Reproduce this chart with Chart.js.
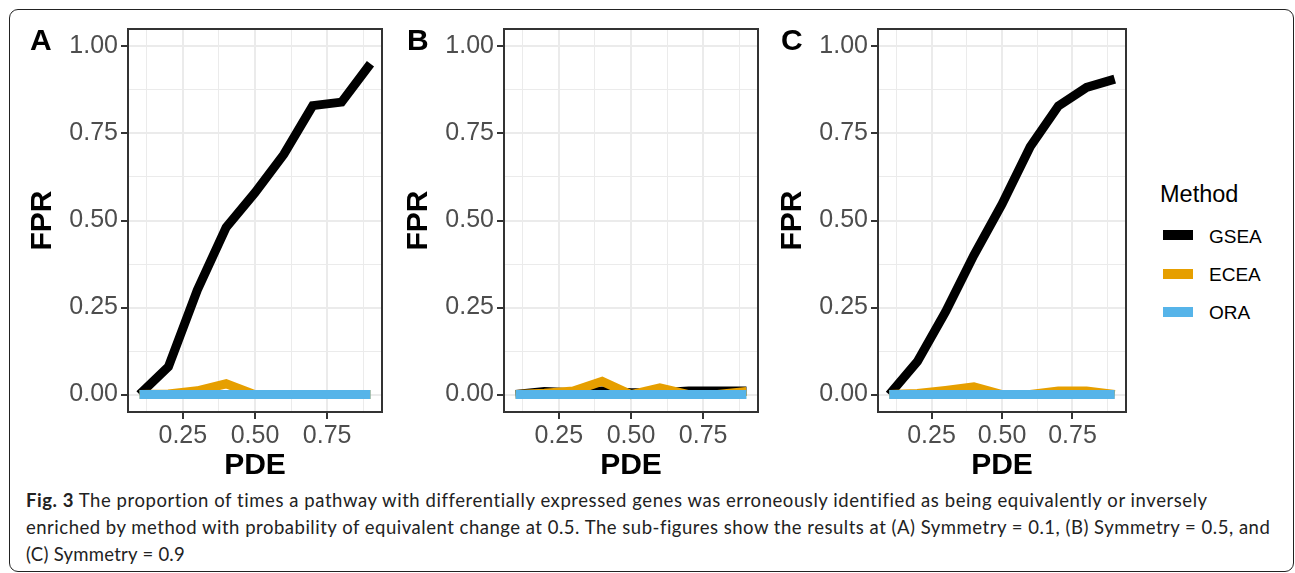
<!DOCTYPE html>
<html>
<head>
<meta charset="utf-8">
<script src="https://cdn.jsdelivr.net/npm/chart.js@4.4.1/dist/chart.umd.min.js"></script>
<style>
  html, body { margin:0; padding:0; background:#fff; }
  body { width:1295px; height:573px; position:relative; overflow:hidden; }
  canvas { position:absolute; top:0; }
  .box { position:absolute; left:9px; top:9px; width:1285px; height:563px; box-sizing:border-box;
         border:1.5px solid #222; border-radius:9px; }
  .txt { position:absolute; white-space:nowrap; line-height:1.2; }
  .letter { font-family:"Liberation Sans", Arial, sans-serif; font-weight:bold; font-size:30px; color:#000; }
  .legtitle { font-family:"Liberation Sans", Arial, sans-serif; font-size:23.5px; color:#000; }
  .leglab { font-family:"Liberation Sans", Arial, sans-serif; font-size:19px; color:#000; }
  .swatch { position:absolute; left:1163px; width:30px; height:10px; }
  .cap { font-family:Lato, "Open Sans", sans-serif; font-size:18.5px; color:#222; }
</style>
</head>
<body>
<div class="box"></div>

<canvas id="cA" width="384" height="484" style="left:0px"></canvas>
<canvas id="cB" width="384" height="484" style="left:376px"></canvas>
<canvas id="cC" width="378" height="484" style="left:750px"></canvas>

<div class="txt letter" data-x="30" data-b="50">A</div>
<div class="txt letter" data-x="407" data-b="50">B</div>
<div class="txt letter" data-x="781" data-b="50">C</div>

<div class="txt legtitle" data-x="1160" data-b="201.5">Method</div>
<div class="swatch" style="top:230px;background:#000000"></div>
<div class="swatch" style="top:268.5px;background:#E69F00"></div>
<div class="swatch" style="top:307px;background:#56B4E9"></div>
<div class="txt leglab" data-x="1209" data-b="242.5">GSEA</div>
<div class="txt leglab" data-x="1209" data-b="281">ECEA</div>
<div class="txt leglab" data-x="1209" data-b="319">ORA</div>

<div class="txt cap" data-x="26" data-b="506.5" data-w="1182"><b>Fig. 3</b> The proportion of times a pathway with differentially expressed genes was erroneously identified as being equivalently or inversely</div>
<div class="txt cap" data-x="26" data-b="533.5" data-w="1244">enriched by method with probability of equivalent change at 0.5. The sub-figures show the results at (A) Symmetry = 0.1, (B) Symmetry = 0.5, and</div>
<div class="txt cap" data-x="26" data-b="560.5" data-w="159">(C) Symmetry = 0.9</div>

<script>
// ---- data ----
const methods = ["GSEA", "ECEA", "ORA"];
const methodColors = ["#000000", "#E69F00", "#56B4E9"];
const pde = [0.1, 0.2, 0.3, 0.4, 0.5, 0.6, 0.7, 0.8, 0.9];

const gseaA = [0.00, 0.08, 0.30, 0.48, 0.58, 0.69, 0.83, 0.84, 0.95];
const eceaA = [0.00, 0.002, 0.011, 0.031, 0.00, 0.00, 0.00, 0.00, 0.00];
const oraA  = [0, 0, 0, 0, 0, 0, 0, 0, 0];

const gseaB = [0.00, 0.009, 0.005, 0.01, 0.005, 0.005, 0.01, 0.01, 0.01];
const eceaB = [0.00, 0.004, 0.01, 0.038, 0.00, 0.019, 0.00, 0.00, 0.009];
const oraB  = [0, 0, 0, 0, 0, 0, 0, 0, 0];

const gseaC = [0.00, 0.095, 0.238, 0.40, 0.547, 0.712, 0.829, 0.882, 0.906];
const eceaC = [0.00, 0.003, 0.012, 0.022, 0.00, 0.00, 0.01, 0.01, 0.00];
const oraC  = [0, 0, 0, 0, 0, 0, 0, 0, 0];

const xMajor = [0.25, 0.5, 0.75];
const xMajorLabels = ["0.25", "0.50", "0.75"];
const xMinor = [0.125, 0.375, 0.625, 0.875];
const yMajor = [0, 0.25, 0.5, 0.75, 1];
const yMajorLabels = ["0.00", "0.25", "0.50", "0.75", "1.00"];
const yMinor = [0.125, 0.375, 0.625, 0.875];

const xTitle = "PDE";
const yTitle = "FPR";

// ---- chart ----
const FONT = "'Liberation Sans', Arial, Helvetica, sans-serif";
const near = (arr, v) => arr.findIndex(a => Math.abs(a - v) < 1e-9);

const framePlugin = {
  id: 'frame',
  afterDraw(chart) {
    const {ctx, chartArea: a} = chart;
    ctx.save();
    ctx.strokeStyle = '#333333';
    ctx.lineWidth = 2;
    ctx.strokeRect(a.left, a.top, a.right - a.left, a.bottom - a.top);
    ctx.restore();
  }
};

function makeChart(id, series, padRight) {
  const datasets = series.map((vals, k) => ({
    label: methods[k],
    data: pde.map((x, i) => ({x: x, y: vals[i]})),
    borderColor: methodColors[k],
    backgroundColor: methodColors[k],
    order: 3 - k
  }));
  const gridOpts = (major) => ({
    color: '#EBEBEB',
    lineWidth: c => (near(major, c.tick.value) >= 0 ? 2 : 1),
    tickColor: c => (near(major, c.tick.value) >= 0 ? '#333333' : 'rgba(0,0,0,0)'),
    tickLength: 7,
    tickWidth: 2,
    drawTicks: true
  });
  return new Chart(document.getElementById(id), {
    type: 'line',
    data: {datasets},
    options: {
      responsive: false,
      animation: false,
      devicePixelRatio: 1,
      layout: {padding: {top: 29, right: padRight, left: 0, bottom: 0}},
      plugins: {legend: {display: false}, tooltip: {enabled: false}},
      elements: {
        point: {radius: 0, hoverRadius: 0},
        line: {borderWidth: 9, tension: 0, borderCapStyle: 'butt', borderJoinStyle: 'miter', fill: false}
      },
      scales: {
        x: {
          type: 'linear', min: 0.06, max: 0.94,
          afterBuildTicks: s => { s.ticks = [...xMajor, ...xMinor].sort((a, b) => a - b).map(v => ({value: v})); },
          afterFit: s => { s.height = 72; },
          ticks: {
            autoSkip: false, maxRotation: 0, minRotation: 0, padding: 2, color: '#4D4D4D',
            font: {family: FONT, size: 25},
            callback: v => { const i = near(xMajor, v); return i >= 0 ? xMajorLabels[i] : ''; }
          },
          grid: gridOpts(xMajor),
          border: {display: true, color: '#333333', width: 2},
          title: {display: true, text: xTitle, color: '#000', font: {family: FONT, size: 30, weight: 'bold'}, padding: {top: 0, bottom: 0}}
        },
        y: {
          type: 'linear', min: -0.05, max: 1.05,
          afterBuildTicks: s => { s.ticks = [...yMajor, ...yMinor].sort((a, b) => a - b).map(v => ({value: v})); },
          afterFit: s => { s.width = 128; },
          ticks: {
            autoSkip: false, padding: 3, color: '#4D4D4D',
            font: {family: FONT, size: 25},
            callback: v => { const i = near(yMajor, v); return i >= 0 ? yMajorLabels[i] : ''; }
          },
          grid: gridOpts(yMajor),
          border: {display: true, color: '#333333', width: 2},
          title: {display: true, text: yTitle, color: '#000', font: {family: FONT, size: 30, weight: 'bold'}, padding: {top: 25, bottom: 0}}
        }
      }
    },
    plugins: [framePlugin]
  });
}

makeChart('cA', [gseaA, eceaA, oraA], 2);
makeChart('cB', [gseaB, eceaB, oraB], 2);
makeChart('cC', [gseaC, eceaC, oraC], 2);

// ---- place HTML text by baseline ----
document.querySelectorAll('.txt').forEach(el => {
  el.style.left = el.dataset.x + 'px';
  el.style.top = '0px';
  if (el.dataset.w) {
    const w = el.getBoundingClientRect().width;
    const n = el.textContent.length;
    el.style.letterSpacing = ((parseFloat(el.dataset.w) - w) / n) + 'px';
  }
  const m = document.createElement('span');
  m.style.cssText = 'display:inline-block;width:0;height:0;vertical-align:baseline;';
  el.appendChild(m);
  const base = m.getBoundingClientRect().top - el.getBoundingClientRect().top;
  el.style.top = (parseFloat(el.dataset.b) - base) + 'px';
});
</script>
</body>
</html>
